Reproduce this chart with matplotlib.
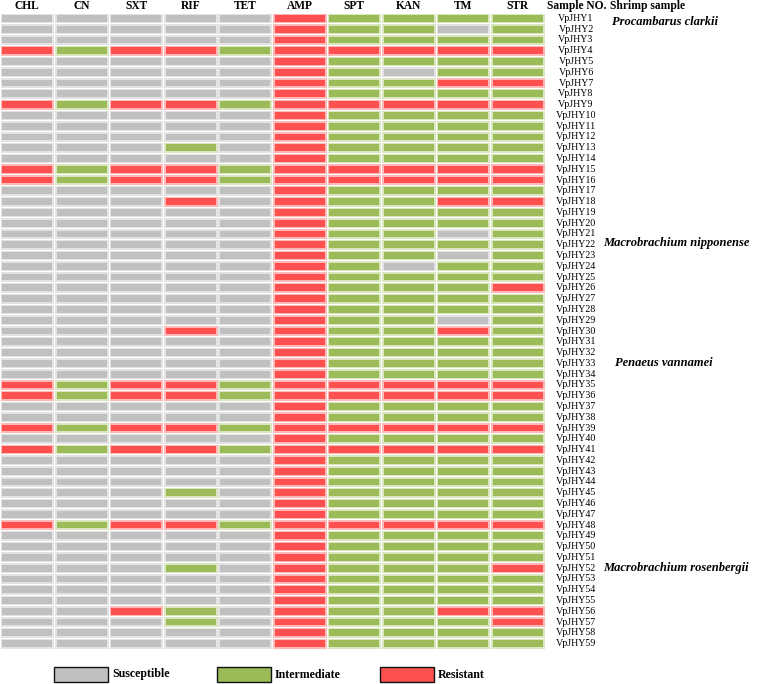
import matplotlib
matplotlib.use("Agg")

import matplotlib.pyplot as plt
from matplotlib.patches import Rectangle

# ── data ────────────────────────────────────────────────────────────────
antibiotics = ["CHL", "CN", "SXT", "RIF", "TET", "AMP", "SPT", "KAN", "TM", "STR"]
samples = [f"VpJHY{i}" for i in range(1, 60)]

# 0 = susceptible, 1 = intermediate, 2 = resistant
typical = [0, 0, 0, 0, 0, 2, 1, 1, 1, 1]
multi_res = [2, 1, 2, 2, 1, 2, 2, 2, 2, 2]
multi_res_rows = [4, 9, 15, 16, 35, 36, 39, 41, 48]

# (sample number, antibiotic, category) deviations from the typical profile
exceptions = [
    (2, "TM", 0), (6, "KAN", 0), (7, "TM", 2), (7, "STR", 2),
    (13, "RIF", 1), (18, "RIF", 2), (18, "TM", 2), (18, "STR", 2),
    (21, "TM", 0), (23, "TM", 0), (24, "KAN", 0), (26, "STR", 2),
    (29, "TM", 0), (30, "RIF", 2), (30, "TM", 2), (45, "RIF", 1),
    (52, "RIF", 1), (52, "STR", 2),
    (56, "SXT", 2), (56, "RIF", 1), (56, "TM", 2), (56, "STR", 2),
    (57, "RIF", 1), (57, "STR", 2),
]

species = ["Procambarus clarkii", "Macrobrachium nipponense",
           "Penaeus vannamei", "Macrobrachium rosenbergii"]
species_row = [0.85, 21.3, 32.5, 51.5]
species_x = [11.23, 11.06, 11.28, 11.06]

categories = ["Susceptible", "Intermediate", "Resistant"]
fill_colors = ["#C0C0C0", "#9BBB59", "#FF5050"]
edge_colors = ["#E3E3E3", "#D9E6C0", "#FFB8B8"]

matrix = []
for n in range(1, 60):
    matrix.append(list(multi_res if n in multi_res_rows else typical))
for n, ab, c in exceptions:
    matrix[n - 1][antibiotics.index(ab)] = c

# ── figure ──────────────────────────────────────────────────────────────
W, H = 758, 684
fig = plt.figure(figsize=(W / 100, H / 100), dpi=100, facecolor="white")
plt.rcParams["font.family"] = ["Liberation Serif", "DejaVu Serif"]

grid_top, grid_bot, grid_right = 13, 649, 545
ax = fig.add_axes([0, 1 - grid_bot / H, grid_right / W, (grid_bot - grid_top) / H])
ax.set_xlim(0, len(antibiotics))
ax.set_ylim(len(samples), 0)
ax.axis("off")

px_x = len(antibiotics) / grid_right
px_y = len(samples) / (grid_bot - grid_top)

for r, row in enumerate(matrix):
    for c, v in enumerate(row):
        ax.add_patch(Rectangle((c + 0.5 * px_x, r + 0.5 * px_y),
                               1 - px_x, 1 - px_y,
                               facecolor=edge_colors[v], edgecolor="none"))
        ax.add_patch(Rectangle((c + 2.2 * px_x, r + 2.0 * px_y),
                               1 - 4.4 * px_x, 1 - 4.0 * px_y,
                               facecolor=fill_colors[v], edgecolor="none"))

for c, name in enumerate(antibiotics):
    ax.text(c + 0.5, -0.1, name, ha="center", va="bottom",
            fontsize=8.3, fontweight="bold", clip_on=False)

ax.text(10.04, -0.1, "Sample NO.", ha="left", va="bottom",
        fontsize=8.3, fontweight="bold", clip_on=False)
ax.text(11.2, -0.1, "Shrimp sample", ha="left", va="bottom",
        fontsize=8.3, fontweight="bold", clip_on=False)

for r, s in enumerate(samples):
    ax.text(10.57, r + 0.5, s, ha="center", va="center",
            fontsize=7.2, clip_on=False)

for name, ry, sx in zip(species, species_row, species_x):
    ax.text(sx, ry, name, ha="left", va="center", fontsize=9,
            fontweight="bold", style="italic", clip_on=False)

# legend
leg_x = [54, 217, 380]
leg_y0, leg_y1 = 667, 682
for x0, lab, fc in zip(leg_x, categories, fill_colors):
    fig.add_artist(Rectangle((x0 / W, 1 - leg_y1 / H), 54 / W, (leg_y1 - leg_y0) / H,
                             facecolor=fc, edgecolor="#111111", lw=1.0,
                             transform=fig.transFigure))
    fig.text((x0 + 58) / W, 1 - (leg_y0 + leg_y1) / 2 / H, lab,
             ha="left", va="center", fontsize=8.6, fontweight="bold")

fig.savefig("out.png", dpi=100, facecolor="white")
